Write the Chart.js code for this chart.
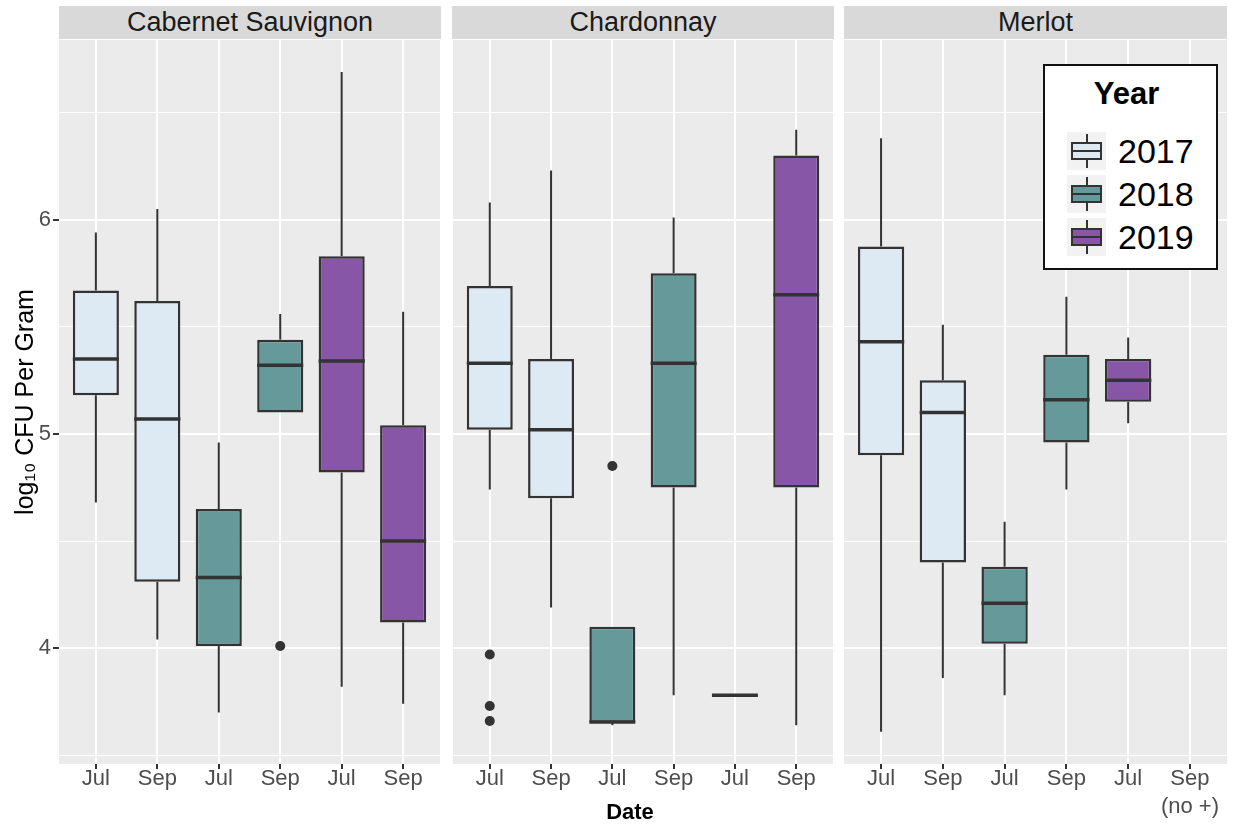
<!DOCTYPE html>
<html>
<head>
<meta charset="utf-8">
<script src="https://cdn.jsdelivr.net/npm/chart.js@4.4.1/dist/chart.umd.min.js"></script>
<style>
  body { margin: 0; background: #fff; font-family: "Liberation Sans", Arial, sans-serif; }
  #wrap { position: relative; width: 1241px; height: 827px; overflow: hidden; }
  canvas { position: absolute; top: 0; }
  .strip { position: absolute; top: 6px; height: 33px; line-height: 33px; background: #d9d9d9;
           color: #1a1a1a; font-size: 27px; text-align: center; }
  #xtitle { position: absolute; left: 530px; width: 200px; top: 798px; line-height: 28px;
            text-align: center; font-size: 22px; font-weight: bold; color: #000; }
  #legend { position: absolute; left: 1043px; top: 64px; width: 175px; height: 206px;
            box-sizing: border-box; border: 2px solid #111; background: #fff; z-index: 2; }
  #legend .ltitle { position: absolute; top: 9px; left: 0; width: 100%; padding-right: 8px; box-sizing: border-box;
                    text-align: center; font-size: 31px; line-height: 38px; font-weight: bold; color: #000; }
  .key { position: absolute; left: 22px; width: 39px; height: 38px; background: #f2f2f2; }
  .key .wh { position: absolute; left: 19px; top: 2px; width: 2px; height: 34px; background: #333; }
  .key .bx { position: absolute; left: 4px; top: 10px; width: 31px; height: 18px; border: 2px solid #333; box-sizing: border-box; }
  .key .md { position: absolute; left: 0; top: 6px; width: 100%; height: 2px; background: #333; }
  .klab { position: absolute; left: 73px; height: 38px; line-height: 38px; font-size: 34px; color: #000; }
</style>
</head>
<body>
<div id="wrap">
  <canvas id="c1" width="445" height="827" style="left:0px"></canvas>
  <canvas id="c2" width="390" height="827" style="left:448px"></canvas>
  <canvas id="c3" width="401" height="827" style="left:840px"></canvas>
  <div class="strip" style="left:59px;width:382px">Cabernet Sauvignon</div>
  <div class="strip" style="left:452px;width:382px">Chardonnay</div>
  <div class="strip" style="left:844px;width:383px">Merlot</div>
  <div id="xtitle">Date</div>
  <div id="legend"><div class="ltitle">Year</div></div>
</div>
<script>
const years = ['2017', '2018', '2019'];
const yearColors = ['#deeaf3', '#669999', '#8856a7'];
const monthLabels = ['Jul', 'Sep', 'Jul', 'Sep', 'Jul', 'Sep'];
const merlotLabels = ['Jul', 'Sep', 'Jul', 'Sep', 'Jul', ['Sep', '(no +)']];
const boxYear = [0, 0, 1, 1, 2, 2];

// Cabernet Sauvignon
const cabLow  = [4.68, 4.04, 3.70, 5.10, 3.82, 3.74];
const cabQ1   = [5.18, 4.31, 4.01, 5.10, 4.82, 4.12];
const cabMed  = [5.35, 5.07, 4.33, 5.32, 5.34, 4.50];
const cabQ3   = [5.67, 5.62, 4.65, 5.44, 5.83, 5.04];
const cabHigh = [5.94, 6.05, 4.96, 5.56, 6.69, 5.57];
const cabOut  = [[], [], [], [4.01], [], []];

// Chardonnay
const chdLow  = [4.74, 4.19, 3.64, 3.78, 3.78, 3.64];
const chdQ1   = [5.02, 4.70, 3.652, 4.75, 3.78, 4.75];
const chdMed  = [5.33, 5.02, 3.655, 5.33, 3.78, 5.65];
const chdQ3   = [5.69, 5.35, 4.10, 5.75, 3.78, 6.30];
const chdHigh = [6.08, 6.23, 4.10, 6.01, 3.78, 6.42];
const chdOut  = [[3.97, 3.73, 3.66], [], [4.85], [], [], []];

// Merlot (no Sep 2019 samples)
const merLow  = [3.61, 3.86, 3.78, 4.74, 5.05];
const merQ1   = [4.90, 4.40, 4.02, 4.96, 5.15];
const merMed  = [5.43, 5.10, 4.21, 5.16, 5.25];
const merQ3   = [5.875, 5.25, 4.38, 5.37, 5.35];
const merHigh = [6.38, 5.51, 4.59, 5.64, 5.45];
const merOut  = [[], [], [], [], []];

const yMin = 3.459;
const yMax = 6.839;

Chart.defaults.font.family = '"Liberation Sans", Arial, sans-serif';

const panelBg = {
  id: 'panelBg',
  beforeDraw(chart) {
    const { ctx, chartArea: a } = chart;
    ctx.save();
    ctx.fillStyle = '#ebebeb';
    ctx.fillRect(a.left, a.top, a.width, a.height);
    ctx.restore();
  }
};

// whiskers behind the boxes, median lines on top
const boxParts = {
  id: 'boxParts',
  beforeDatasetsDraw(chart) {
    const { ctx, scales: { x, y } } = chart;
    const ds = chart.data.datasets[0];
    ctx.save();
    ctx.strokeStyle = '#333';
    ctx.lineWidth = 2;
    ds.low.forEach((lo, i) => {
      const px = x.getPixelForValue(i + 1);
      ctx.beginPath();
      ctx.moveTo(px, y.getPixelForValue(ds.high[i]));
      ctx.lineTo(px, y.getPixelForValue(ds.q3[i]));
      ctx.moveTo(px, y.getPixelForValue(ds.q1[i]));
      ctx.lineTo(px, y.getPixelForValue(lo));
      ctx.stroke();
    });
    ctx.restore();
  },
  afterDatasetsDraw(chart) {
    const { ctx, scales: { y } } = chart;
    const ds = chart.data.datasets[0];
    const meta = chart.getDatasetMeta(0);
    ctx.save();
    ctx.strokeStyle = '#333';
    ctx.lineWidth = 3.5;
    meta.data.forEach((bar, i) => {
      const py = y.getPixelForValue(ds.med[i]);
      ctx.beginPath();
      ctx.moveTo(bar.x - bar.width / 2, py);
      ctx.lineTo(bar.x + bar.width / 2, py);
      ctx.stroke();
    });
    ctx.restore();
  }
};

function isMajor(v) { return Math.abs(v - Math.round(v)) < 1e-6; }

function makePanel(id, p) {
  const boxes = p.q1.map((q, i) => ({ x: i + 1, y: [q, p.q3[i]] }));
  const outliers = [];
  p.out.forEach((vals, i) => vals.forEach(v => outliers.push({ x: i + 1, y: v })));

  return new Chart(document.getElementById(id), {
    type: 'bar',
    data: {
      datasets: [
        {
          type: 'bar',
          data: boxes,
          low: p.low, q1: p.q1, med: p.med, q3: p.q3, high: p.high,
          backgroundColor: p.q1.map((q, i) => yearColors[boxYear[i]]),
          borderColor: '#333',
          borderWidth: 2.5,
          borderSkipped: false,
          categoryPercentage: 1,
          barPercentage: 0.75
        },
        {
          type: 'scatter',
          data: outliers,
          pointRadius: 5,
          backgroundColor: '#333',
          borderColor: '#333',
          borderWidth: 0
        }
      ]
    },
    options: {
      responsive: false,
      animation: false,
      layout: { padding: { left: p.padL, right: p.padR, top: 40, bottom: 0 } },
      plugins: { legend: { display: false }, tooltip: { enabled: false } },
      scales: {
        x: {
          type: 'linear',
          min: 0.4,
          max: 6.6,
          offset: false,
          afterFit(s) { s.height = 63; },
          grid: { offset: false, color: '#fff', lineWidth: 2, tickLength: 5, tickColor: '#333', tickWidth: 2 },
          border: { display: false },
          ticks: {
            stepSize: 1,
            includeBounds: false,
            autoSkip: false,
            maxRotation: 0,
            padding: -4,
            color: '#4d4d4d',
            font: { size: 22, lineHeight: '28px' },
            callback: (v) => p.labels[Math.round(v) - 1]
          }
        },
        y: {
          min: yMin,
          max: yMax,
          beginAtZero: false,
          afterFit(s) { s.width = p.yWidth; },
          grid: {
            color: '#fff',
            lineWidth: (c) => isMajor(c.tick.value) ? 2 : 1,
            drawTicks: p.first,
            tickLength: 6,
            tickWidth: 2,
            tickColor: (c) => isMajor(c.tick.value) ? '#333' : 'rgba(0,0,0,0)'
          },
          border: { display: false },
          ticks: {
            display: p.first,
            stepSize: 0.5,
            includeBounds: false,
            padding: 2,
            color: '#4d4d4d',
            font: { size: 22 },
            callback: (v) => isMajor(v) ? String(Math.round(v)) : ''
          },
          title: {
            display: p.first,
            text: 'log₁₀ CFU Per Gram',
            color: '#000',
            font: { size: 25 },
            padding: { top: 11, bottom: 0 }
          }
        }
      }
    },
    plugins: [panelBg, boxParts]
  });
}

makePanel('c1', { low: cabLow, q1: cabQ1, med: cabMed, q3: cabQ3, high: cabHigh, out: cabOut,
  labels: monthLabels, first: true, yWidth: 59, padL: 0, padR: 4 });
makePanel('c2', { low: chdLow, q1: chdQ1, med: chdMed, q3: chdQ3, high: chdHigh, out: chdOut,
  labels: monthLabels, first: false, yWidth: 0, padL: 4, padR: 4 });
makePanel('c3', { low: merLow, q1: merQ1, med: merMed, q3: merQ3, high: merHigh, out: merOut,
  labels: merlotLabels, first: false, yWidth: 0, padL: 4, padR: 14 });

// legend rows
const legend = document.getElementById('legend');
years.forEach((yr, i) => {
  const top = 66 + i * 43;
  const key = document.createElement('div');
  key.className = 'key';
  key.style.top = top + 'px';
  key.innerHTML = '<div class="wh"></div><div class="bx" style="background:' + yearColors[i] +
    '"><div class="md"></div></div>';
  legend.appendChild(key);
  const lab = document.createElement('div');
  lab.className = 'klab';
  lab.style.top = top + 'px';
  lab.textContent = yr;
  legend.appendChild(lab);
});
</script>
</body>
</html>
